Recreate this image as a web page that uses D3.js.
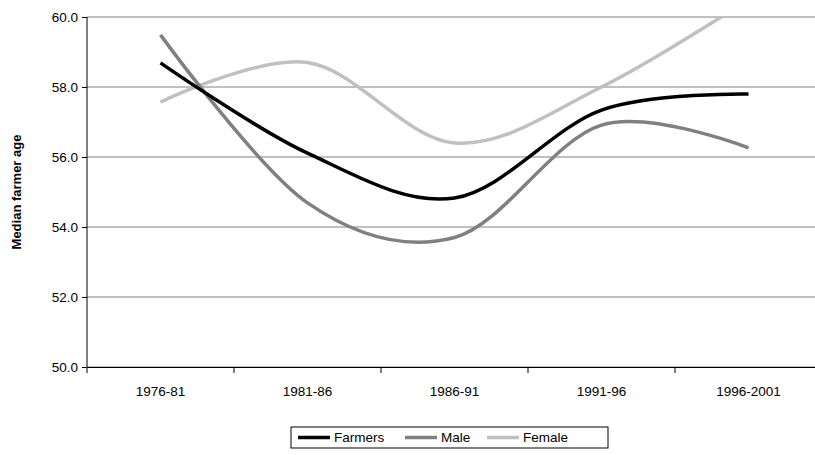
<!DOCTYPE html><html><head><meta charset="utf-8">
<script src="https://cdn.jsdelivr.net/npm/d3@7"></script>
<style>body{margin:0;background:#fff}text{font-family:"Liberation Sans",Arial,sans-serif}</style></head><body>
<svg id="c" width="815" height="455"></svg>
<script>
const categories=["1976-81","1981-86","1986-91","1991-96","1996-2001"];
const farmers=[58.69,56.11,54.83,57.34,57.8];
const male=[59.49,54.69,53.7,56.91,56.26];
const female=[57.57,58.7,56.4,58.0,60.5];
const yTicks=[50,52,54,56,58,60];
const svg=d3.select("#c");
const x=d3.scaleBand().domain(categories).range([87,822]);
const y=d3.scaleLinear().domain([50,60]).range([367,17]);
svg.append("defs").append("clipPath").attr("id","cl").append("rect").attr("x",87).attr("y",17).attr("width",735).attr("height",350);
svg.append("g").selectAll("line").data(yTicks).join("line").attr("x1",87).attr("x2",822).attr("y1",d=>y(d)).attr("y2",d=>y(d)).attr("stroke","#808080");
const ya=svg.append("g").attr("transform","translate(87,0)").call(d3.axisLeft(y).tickValues(yTicks).tickFormat(d3.format(".1f")).tickSize(5).tickPadding(4));
const xa=svg.append("g").attr("transform","translate(0,367)").call(d3.axisBottom(x).tickSize(0).tickPadding(19));
xa.selectAll(".tick line").remove();
xa.append("g").selectAll("line").data(categories).join("line").attr("x1",d=>x(d)).attr("x2",d=>x(d)).attr("y1",0).attr("y2",6).attr("stroke","#000");
[ya,xa].forEach(a=>{a.select(".domain").attr("stroke","#000");a.selectAll("text").attr("font-size",13.5).attr("fill","#000");a.selectAll(".tick line").attr("stroke","#000");});
ya.select(".domain").attr("d","M0,17V367");
const line=d3.line().x((d,i)=>x(categories[i])+x.bandwidth()/2).y(d=>y(d)).curve(d3.curveCardinal.tension(0));
const series=[["Female",female,"#c0c0c0"],["Male",male,"#808080"],["Farmers",farmers,"#000"]];
const g=svg.append("g").attr("clip-path","url(#cl)");
series.forEach(s=>g.append("path").attr("d",line(s[1])).attr("fill","none").attr("stroke",s[2]).attr("stroke-width",3.5));
svg.append("text").attr("transform","translate(21,192) rotate(-90)").attr("text-anchor","middle").attr("font-size",13).attr("font-weight","bold").text("Median farmer age");
const lg=svg.append("g");
lg.append("rect").attr("x",291).attr("y",427).attr("width",317).attr("height",21).attr("fill","#fff").attr("stroke","#000");
const lx=[298,405,487];
[series[2],series[1],series[0]].forEach((s,i)=>{
 lg.append("line").attr("x1",lx[i]).attr("x2",lx[i]+32).attr("y1",437.5).attr("y2",437.5).attr("stroke",s[2]).attr("stroke-width",3.5);
 lg.append("text").attr("x",lx[i]+36).attr("y",442).attr("font-size",13.5).text(s[0]);
});
</script></body></html>
